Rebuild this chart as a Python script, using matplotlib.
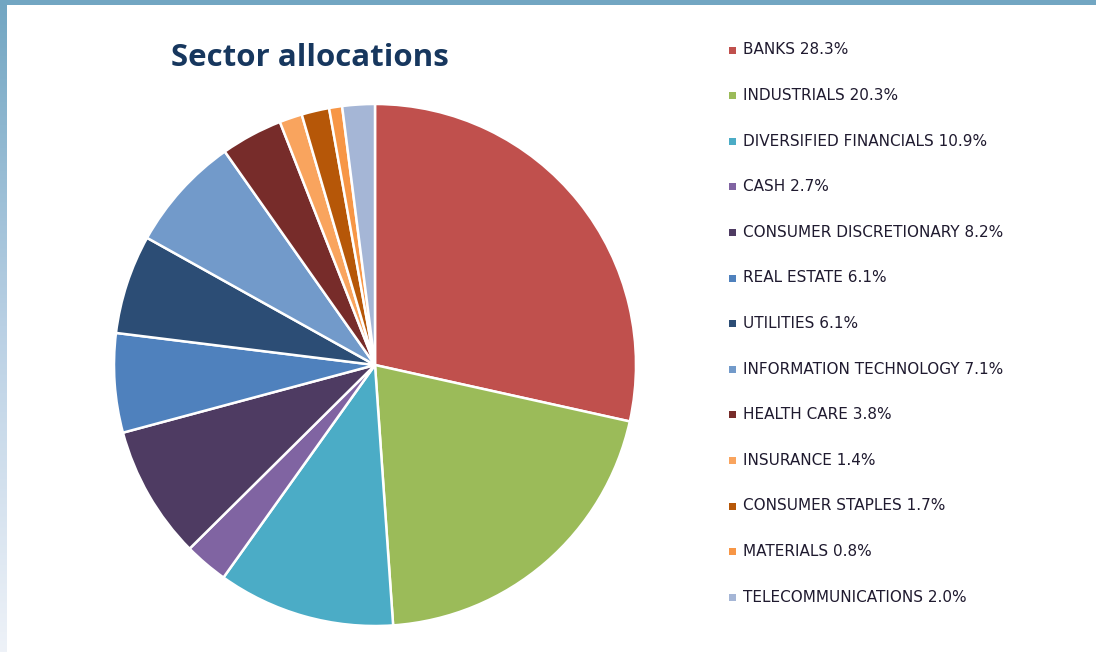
import matplotlib
matplotlib.use("Agg")
import matplotlib.pyplot as plt
import numpy as np
from matplotlib.patches import Rectangle
from matplotlib.colors import LinearSegmentedColormap

sectors = ["BANKS", "INDUSTRIALS", "DIVERSIFIED FINANCIALS", "CASH",
           "CONSUMER DISCRETIONARY", "REAL ESTATE", "UTILITIES",
           "INFORMATION TECHNOLOGY", "HEALTH CARE", "INSURANCE",
           "CONSUMER STAPLES", "MATERIALS", "TELECOMMUNICATIONS"]
weights = [28.3, 20.3, 10.9, 2.7, 8.2, 6.1, 6.1, 7.1, 3.8, 1.4, 1.7, 0.8, 2.0]
colors = ["#C0504D", "#9BBB59", "#4BACC6", "#8064A2", "#4E3B62", "#4F81BD",
          "#2C4D75", "#729ACA", "#772C2A", "#F9A45E", "#B65708", "#F79646",
          "#A5B6D6"]

W, H = 1096, 652
fig = plt.figure(figsize=(W / 100, H / 100), dpi=100)
fig.patch.set_facecolor("white")

# frame decorations: top bar and left gradient strip
bg = fig.add_axes([0, 0, 1, 1], zorder=-10)
bg.axis("off")
grad = np.linspace(0, 1, 256).reshape(-1, 1)
cm = LinearSegmentedColormap.from_list("g", ["#72A6C2", "#B9D0E4", "#EEF2F8"])
bg.imshow(grad, extent=[0, 7, H, 0], cmap=cm, aspect="auto")
bg.add_patch(Rectangle((0, 0), W, 5, color="#72A6C2", lw=0))
bg.set_xlim(0, W); bg.set_ylim(H, 0)

# pie
cx, cy, r = 375, 365, 261
ax = fig.add_axes([(cx - r) / W, (H - cy - r) / H, 2 * r / W, 2 * r / H])
ax.pie(weights, colors=colors, startangle=90, counterclock=False,
       wedgeprops=dict(edgecolor="white", linewidth=1.8))
ax.set_xlim(-1, 1); ax.set_ylim(-1, 1)
ax.set_aspect("auto")
ax.axis("off")

fig.text(310 / W, 1 - 58 / H, "Sector allocations", fontsize=22.5,
         fontweight="bold", color="#17375E", family="Open Sans",
         ha="center", va="center")

# legend
y0, dy = 50, 45.6
for i, (s, w, c) in enumerate(zip(sectors, weights, colors)):
    y = y0 + i * dy
    bg.add_patch(Rectangle((729, y - 3.5), 7, 7, color=c, lw=0))
    bg.text(743, y, f"{s} {w:.1f}%", fontsize=11, color="#1F1A2F",
            family="DejaVu Sans", ha="left", va="center")

fig.savefig("out.png", dpi=100, facecolor="white")
